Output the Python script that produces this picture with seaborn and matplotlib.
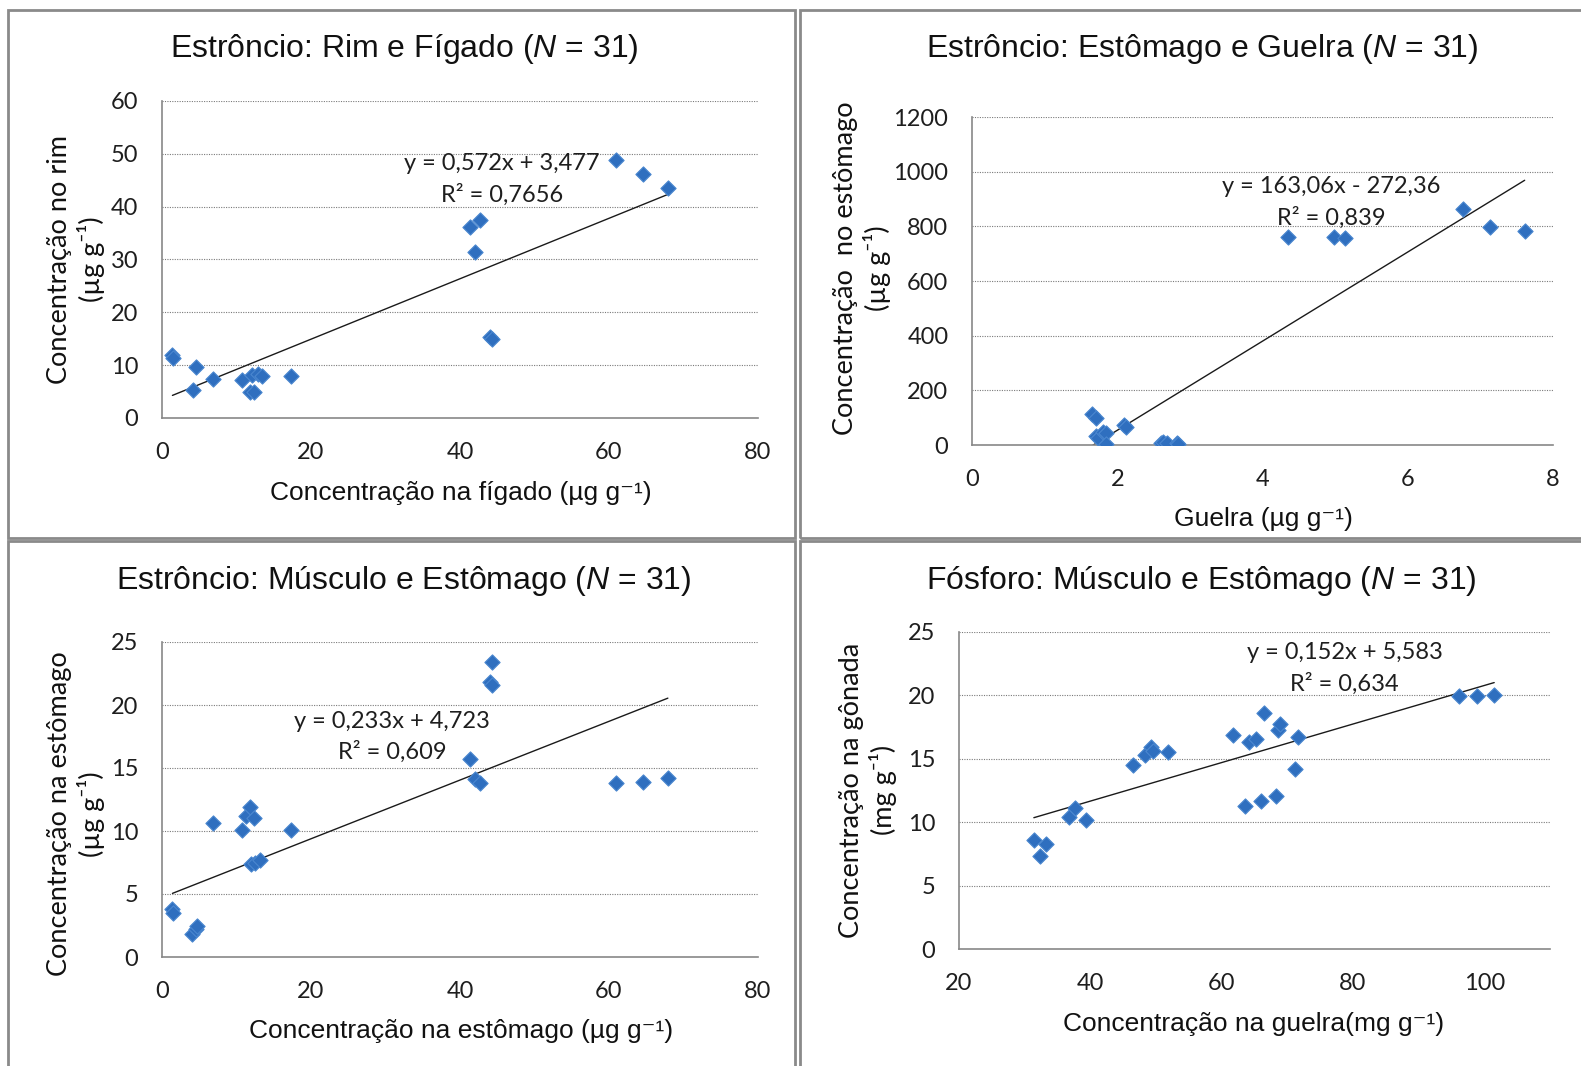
import matplotlib
matplotlib.use("Agg")
import matplotlib.pyplot as plt
import seaborn as sns
import pandas as pd
from matplotlib.patches import Rectangle

# Estrôncio: rim x fígado
figado_x = [1.4, 1.5, 4.1, 4.6, 6.8, 10.7, 11.8, 12.3, 12.1, 12.9, 13.4, 17.3,
            41.4, 42.0, 42.7, 44.0, 44.3, 60.9, 64.5, 67.9]
rim_y = [11.9, 11.3, 5.3, 9.7, 7.3, 7.2, 5.0, 5.0, 8.2, 8.3, 8.0, 7.9,
         36.1, 31.4, 37.4, 15.4, 14.9, 48.9, 46.2, 43.5]

# Estrôncio: estômago x guelra
guelra_x = [1.65, 1.71, 1.71, 1.74, 1.81, 1.84, 1.85, 2.09, 2.12, 2.60, 2.63,
            2.69, 2.82, 2.84, 4.35, 4.99, 5.14, 6.76, 7.13, 7.61]
estomago_y = [112, 100, 33, 27, 47, 43, 5, 75, 66, 9, 12,
              9, 9, 5, 760, 760, 756, 863, 796, 784]

# Estrôncio: músculo x estômago
musculo_x = [1.4, 1.5, 4.0, 4.5, 4.7, 6.8, 10.7, 11.3, 11.8, 12.4, 12.0, 12.5,
             13.1, 17.3, 41.4, 42.0, 42.7, 44.0, 44.3, 44.3, 60.9, 64.5, 67.9]
estomago2_y = [3.8, 3.5, 1.8, 2.25, 2.5, 10.6, 10.1, 11.2, 11.9, 11.0, 7.4, 7.5,
               7.7, 10.05, 15.7, 14.1, 13.8, 21.8, 21.6, 23.4, 13.8, 13.9, 14.2]

# Fósforo: gônada x guelra
guelra_p_x = [31.4, 32.3, 33.3, 36.7, 37.6, 39.3, 46.5, 48.4, 49.2, 49.5, 51.8,
              61.7, 63.5, 64.1, 65.2, 66.0, 66.5, 68.2, 68.6, 68.9, 71.2, 71.7,
              96.2, 98.9, 101.5]
gonada_y = [8.6, 7.3, 8.25, 10.4, 11.1, 10.2, 14.5, 15.3, 15.9, 15.65, 15.5,
            16.9, 11.25, 16.3, 16.6, 11.7, 18.6, 12.1, 17.3, 17.75, 14.2, 16.7,
            19.95, 19.95, 20.0]

# Linear trend coefficients (slope, intercept) and their labels
trend_coefs = [(0.572, 3.477), (163.06, -272.36), (0.233, 4.723), (0.152, 5.583)]
trend_eqs = ["y = 0,572x + 3,477", "y = 163,06x - 272,36",
             "y = 0,233x + 4,723", "y = 0,152x + 5,583"]
trend_r2 = ["R² = 0,7656", "R² = 0,839", "R² = 0,609", "R² = 0,634"]

titles = [r"Estrôncio: Rim e Fígado ($\mathit{N}$ = 31)",
          r"Estrôncio: Estômago e Guelra ($\mathit{N}$ = 31)",
          r"Estrôncio: Músculo e Estômago ($\mathit{N}$ = 31)",
          r"Fósforo: Músculo e Estômago ($\mathit{N}$ = 31)"]
xlabels = ["Concentração na fígado (µg g⁻¹)", "Guelra (µg g⁻¹)",
           "Concentração na estômago (µg g⁻¹)", "Concentração na guelra(mg g⁻¹)"]
ylabels = ["Concentração no rim\n(µg g⁻¹)", "Concentração  no estômago\n(µg g⁻¹)",
           "Concentração na estômago\n(µg g⁻¹)", "Concentração na gônada\n(mg g⁻¹)"]

sns.set_theme(style="white")
plt.rcParams["font.family"] = ["Lato", "DejaVu Sans"]
plt.rcParams["mathtext.fontset"] = "custom"
plt.rcParams["mathtext.rm"] = "Liberation Sans"
plt.rcParams["mathtext.it"] = "Liberation Sans:italic"

W, H = 1581, 1066
fig = plt.figure(figsize=(W / 100, H / 100), dpi=100)
fig.patch.set_facecolor("white")


def frac_rect(l, t, r, b):
    return [l / W, 1 - b / H, (r - l) / W, (b - t) / H]


# panel frames
for (l, t, r, b) in [(8, 10, 795, 538), (800, 10, 1590, 538),
                     (8, 541, 795, 1075), (800, 541, 1590, 1075)]:
    fig.patches.append(Rectangle((l / W, 1 - b / H), (r - l) / W, (b - t) / H,
                                 transform=fig.transFigure, fill=False,
                                 edgecolor="#8a8a8a", lw=2.0))

panels = [
    dict(x=figado_x, y=rim_y, box=(162, 101, 758, 418), xlim=(0, 80), xt=range(0, 81, 20),
         ylim=(0, 60), yt=range(0, 61, 10), eq=(45.6, 48.1, 42.3),
         title_xy=(404, 49), xl_xy=(461, 493), yl_xy=(76, 259)),
    dict(x=guelra_x, y=estomago_y, box=(972, 117, 1553, 445), xlim=(0, 8), xt=range(0, 9, 2),
         ylim=(0, 1200), yt=range(0, 1201, 200), eq=(4.95, 945, 832),
         title_xy=(1202, 49), xl_xy=(1263, 519), yl_xy=(862, 268)),
    dict(x=musculo_x, y=estomago2_y, box=(162, 642, 758, 957), xlim=(0, 80), xt=range(0, 81, 20),
         ylim=(0, 25), yt=range(0, 26, 5), eq=(30.9, 18.7, 16.3),
         title_xy=(404, 581), xl_xy=(461, 1031), yl_xy=(76, 814)),
    dict(x=guelra_p_x, y=gonada_y, box=(959, 632, 1550, 949), xlim=(20, 110), xt=range(20, 101, 20),
         ylim=(0, 25), yt=range(0, 26, 5), eq=(78.7, 23.4, 20.9),
         title_xy=(1201, 581), xl_xy=(1254, 1024), yl_xy=(868, 790)),
]

for i, p in enumerate(panels):
    ax = fig.add_axes(frac_rect(*p["box"]))
    df = pd.DataFrame({"x": p["x"], "y": p["y"]})
    ax.set_xlim(*p["xlim"])
    ax.set_ylim(*p["ylim"])
    ax.set_xticks(list(p["xt"]))
    ax.set_yticks(list(p["yt"]))
    for yv in list(p["yt"])[1:]:
        ax.axhline(yv, color="#7a7a7a", lw=0.8, ls=(0, (1, 1.2)), zorder=0)
    for s in ["top", "right"]:
        ax.spines[s].set_visible(False)
    for s in ["left", "bottom"]:
        ax.spines[s].set_color("#878787")
        ax.spines[s].set_linewidth(1.2)
    ax.tick_params(direction="out", length=4, width=1, color="#878787",
                   labelsize=17, labelcolor="#1e1e1e")
    ax.tick_params(axis="x", pad=13.5)
    ax.tick_params(axis="y", pad=13)

    slope, icpt = trend_coefs[i]
    xs = [min(p["x"]), max(p["x"])]
    ax.plot(xs, [slope * v + icpt for v in xs], color="#1a1a1a", lw=1.0, zorder=2)

    sns.scatterplot(data=df, x="x", y="y", ax=ax, marker="D", s=60,
                    color="#2F6FBF", edgecolor="#4A87CF", linewidth=0.8, zorder=3,
                    legend=False)
    ax.set_xlabel("")
    ax.set_ylabel("")

    ex, ey1, ey2 = p["eq"]
    ax.text(ex, ey1, trend_eqs[i], ha="center", va="center", fontsize=17, color="#1e1e1e")
    ax.text(ex, ey2, trend_r2[i], ha="center", va="center", fontsize=17, color="#1e1e1e")

    tx, ty = p["title_xy"]
    fig.text(tx / W, 1 - ty / H, titles[i], ha="center", va="center", fontsize=23,
             family=["Liberation Sans", "DejaVu Sans"], color="#111111")
    lx, ly = p["xl_xy"]
    fig.text(lx / W, 1 - ly / H, xlabels[i], ha="center", va="center", fontsize=19,
             family=["Liberation Sans", "DejaVu Sans"], color="#111111")
    yx, yy = p["yl_xy"]
    fig.text(yx / W, 1 - yy / H, ylabels[i], ha="center", va="center", fontsize=19.5,
             rotation=90, linespacing=1.2, color="#111111")

fig.savefig("out.png", dpi=100, facecolor="white")
